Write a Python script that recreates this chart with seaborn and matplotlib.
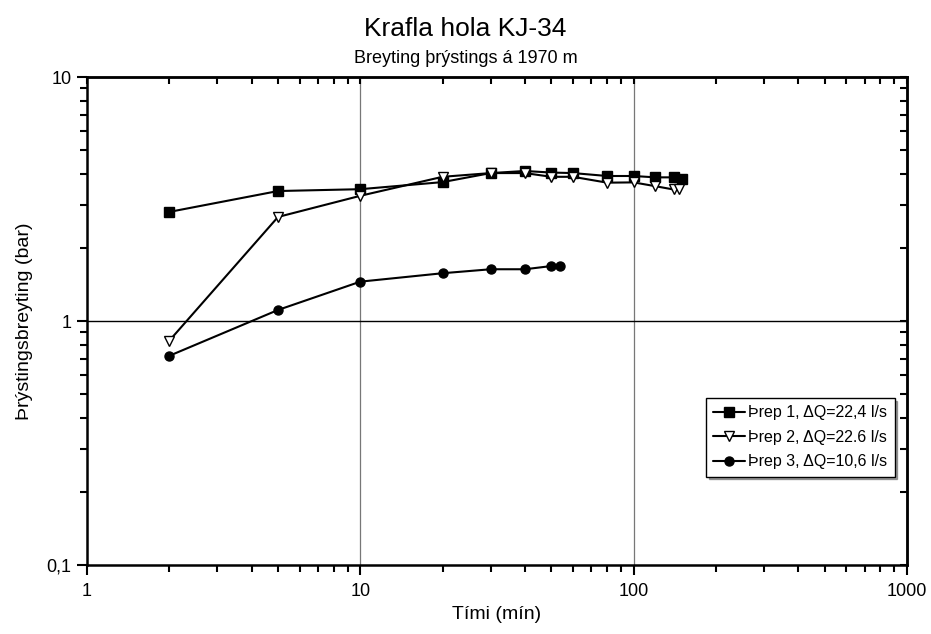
import matplotlib
matplotlib.use("Agg")
import matplotlib.pyplot as plt
import matplotlib.ticker as mticker
import seaborn as sns
import pandas as pd

# Data
t1 = [2, 5, 10, 20, 30, 40, 50, 60, 80, 100, 120, 140, 150]
p1 = [2.8, 3.41, 3.47, 3.71, 4.04, 4.12, 4.06, 4.04, 3.93, 3.93, 3.88, 3.88, 3.82]
t2 = [2, 5, 10, 20, 30, 40, 50, 60, 80, 100, 120, 140, 146]
p2 = [0.83, 2.67, 3.26, 3.9, 4.04, 4.04, 3.9, 3.9, 3.69, 3.7, 3.57, 3.46, 3.46]
t3 = [2, 5, 10, 20, 30, 40, 50, 54]
p3 = [0.72, 1.11, 1.45, 1.57, 1.63, 1.63, 1.68, 1.68]
labels = ["Þrep 1, ΔQ=22,4 l/s", "Þrep 2, ΔQ=22.6 l/s", "Þrep 3, ΔQ=10,6 l/s"]

df = pd.concat([
    pd.DataFrame({"t": t1, "p": p1, "s": labels[0]}),
    pd.DataFrame({"t": t2, "p": p2, "s": labels[1]}),
    pd.DataFrame({"t": t3, "p": p3, "s": labels[2]}),
])

sns.set_style("white")
plt.rcParams['font.family'] = ['Liberation Sans', 'DejaVu Sans']
plt.rcParams['text.color'] = 'black'
plt.rcParams['axes.labelcolor'] = 'black'
plt.rcParams['xtick.color'] = 'black'
plt.rcParams['ytick.color'] = 'black'

fig = plt.figure(figsize=(9.31, 6.34), dpi=100)
ax = fig.add_axes([0.0934, 0.1088, 0.8808, 0.7697])

styles = [("s", "black", 6.5), ("v", "white", 7.5), ("o", "black", 6.5)]
for lab, (mk, fc, ms) in zip(labels, styles):
    sub = df[df.s == lab]
    sns.lineplot(data=sub, x="t", y="p", ax=ax, color="black", lw=1.5,
                 marker=mk, markersize=ms, markerfacecolor=fc,
                 markeredgecolor="black", markeredgewidth=1.0, label=lab,
                 estimator=None, sort=False)

ax.set_xscale("log")
ax.set_yscale("log")
ax.set_xlim(1, 1000)
ax.set_ylim(0.1, 10)

ax.xaxis.set_major_locator(mticker.FixedLocator([1, 10, 100, 1000]))
ax.xaxis.set_major_formatter(mticker.FixedFormatter(["1", "10", "100", "1000"]))
ax.yaxis.set_major_locator(mticker.FixedLocator([0.1, 1, 10]))
ax.yaxis.set_major_formatter(mticker.FixedFormatter(["0,1", "1", "10"]))
ax.xaxis.set_minor_locator(mticker.LogLocator(base=10, subs=range(2, 10)))
ax.yaxis.set_minor_locator(mticker.LogLocator(base=10, subs=range(2, 10)))
ax.xaxis.set_minor_formatter(mticker.NullFormatter())
ax.yaxis.set_minor_formatter(mticker.NullFormatter())

ax.tick_params(which="both", direction="out", bottom=True, left=True,
               top=False, right=False, colors="black", labelsize=13, width=1.5)
ax.tick_params(which="major", length=7)
ax.tick_params(which="minor", length=5)
ax.tick_params(axis="x", pad=6)
ax.tick_params(axis="y", pad=4)

axt = ax.secondary_xaxis("top")
axt.xaxis.set_major_locator(mticker.FixedLocator([1, 10, 100, 1000]))
axt.xaxis.set_minor_locator(mticker.LogLocator(base=10, subs=range(2, 10)))
axt.tick_params(which="both", direction="in", top=True, labeltop=False, width=1.5, length=5)
axt.xaxis.set_major_formatter(mticker.NullFormatter())
axt.xaxis.set_minor_formatter(mticker.NullFormatter())
axr = ax.secondary_yaxis("right")
axr.yaxis.set_major_locator(mticker.FixedLocator([0.1, 1, 10]))
axr.yaxis.set_minor_locator(mticker.LogLocator(base=10, subs=range(2, 10)))
axr.tick_params(which="both", direction="in", right=True, labelright=False, width=1.5, length=5)
axr.yaxis.set_major_formatter(mticker.NullFormatter())
axr.yaxis.set_minor_formatter(mticker.NullFormatter())
for sp in list(axt.spines.values()) + list(axr.spines.values()):
    sp.set_linewidth(1.8)

for sp in ax.spines.values():
    sp.set_visible(True)
    sp.set_color("black")
    sp.set_linewidth(1.8)

ax.grid(False)
for xv in [10, 100]:
    ax.axvline(xv, color="#777777", lw=0.9, zorder=0)
ax.axhline(1, color="black", lw=1.0, zorder=0)

ax.set_xlabel("Tími (mín)", fontsize=14, labelpad=4)
ax.set_ylabel("Þrýstingsbreyting (bar)", fontsize=14, labelpad=10)

fig.text(0.5, 0.955, "Krafla hola KJ-34", ha="center", va="center", fontsize=19)
fig.text(0.5, 0.908, "Breyting þrýstings á 1970 m", ha="center", va="center", fontsize=13)

leg = ax.legend(loc="upper left", bbox_to_anchor=(0.755, 0.342), fontsize=11.5,
                frameon=True, fancybox=False, shadow=True, borderpad=0.45,
                labelspacing=0.6, handlelength=2.0, handletextpad=0.2,
                borderaxespad=0)
leg.get_frame().set_edgecolor("black")
leg.get_frame().set_linewidth(1.0)
for txt in leg.get_texts():
    txt.set_color("black")

fig.savefig("out.png", dpi=100)
